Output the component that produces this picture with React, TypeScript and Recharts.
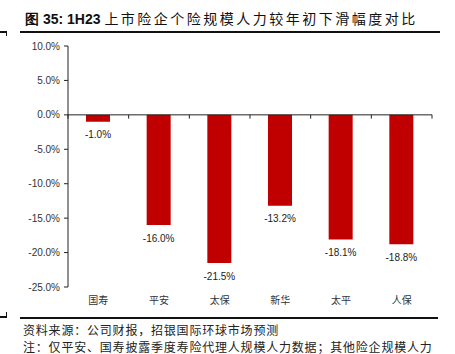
import React from 'react';
import { BarChart, Bar, XAxis, YAxis, ReferenceLine, LabelList } from 'recharts';

const companies = ['国寿', '平安', '太保', '新华', '太平', '人保'];
const declinePct = [-1.0, -16.0, -21.5, -13.2, -18.1, -18.8];
const yTicks = [10, 5, 0, -5, -10, -15, -20, -25];

const chartData = companies.map((name, i) => ({ name, value: declinePct[i] }));

const BAR_RED = '#C00000';
const INK = '#222';

// value label sits under the end of each (negative) bar
const BarValueLabel = (props: any) => {
  const { x, y, width, height, value } = props;
  const bottom = Math.max(Number(y), Number(y) + Number(height));
  return (
    <text
      x={Number(x) + Number(width) / 2}
      y={bottom + 14}
      textAnchor="middle"
      dominantBaseline="middle"
      fontSize={10}
      fontFamily="Arial, 'Liberation Sans', sans-serif"
      fill={INK}
    >
      {`${Number(value).toFixed(1)}%`}
    </text>
  );
};

const rule = (top: number, left: number, width: number) => (
  <div style={{ position: 'absolute', top, left, width, height: 2, background: '#111' }} />
);

export default function App() {
  return (
    <div
      style={{
        position: 'absolute',
        left: 0,
        top: 0,
        width: 455,
        height: 354,
        overflow: 'hidden',
        background: '#fff',
        fontFamily: "'Noto Sans CJK SC', sans-serif",
      }}
    >
      <div
        style={{
          position: 'absolute',
          left: 25,
          top: 8,
          fontSize: 14,
          lineHeight: '20px',
          color: '#111',
          whiteSpace: 'nowrap',
        }}
      >
        <span style={{ fontFamily: "Arial, 'Liberation Sans', sans-serif", fontWeight: 700 }}>图 35: 1H23 </span>
        <span style={{ fontWeight: 400, letterSpacing: 2.5 }}>上市险企个险规模人力较年初下滑幅度对比</span>
      </div>
      {rule(31, 0, 7)}
      <div style={{ position: 'absolute', top: 31, left: 6, width: 1, height: 5, background: '#111' }} />
      {rule(31, 20, 420)}

      <div style={{ position: 'absolute', left: 0, top: 0 }}>
        <BarChart
          width={455}
          height={310}
          data={chartData}
          margin={{ top: 46, right: 23, left: 0, bottom: 0 }}
        >
          <YAxis
            type="number"
            domain={[-25, 10]}
            ticks={yTicks}
            interval={0}
            width={68}
            tickSize={4}
            tickMargin={4}
            axisLine={{ stroke: INK }}
            tickLine={{ stroke: INK }}
            tick={{ fontSize: 10, fill: '#333', fontFamily: "Arial, 'Liberation Sans', sans-serif" }}
            tickFormatter={(v: number) => `${v.toFixed(1)}%`}
          />
          <XAxis
            dataKey="name"
            height={23}
            axisLine={false}
            tickLine={false}
            tickSize={0}
            tickMargin={10}
            interval={0}
            tick={{ fontSize: 10, fill: '#333' }}
          />
          <ReferenceLine y={0} stroke={INK} strokeWidth={1} />
          {companies.map((c) => (
            <ReferenceLine
              key={`tick-${c}`}
              segment={[
                { x: c, y: 0 },
                { x: c, y: -0.55 },
              ]}
              position="start"
              stroke={INK}
            />
          ))}
          <ReferenceLine
            segment={[
              { x: companies[companies.length - 1], y: 0 },
              { x: companies[companies.length - 1], y: -0.55 },
            ]}
            position="end"
            stroke={INK}
          />
          <Bar dataKey="value" fill={BAR_RED} barSize={24} isAnimationActive={false}>
            <LabelList dataKey="value" content={BarValueLabel} />
          </Bar>
        </BarChart>
      </div>

      {rule(316, 0, 7)}
      <div style={{ position: 'absolute', top: 312, left: 6, width: 1, height: 5, background: '#111' }} />
      {rule(317, 20, 418)}
      <div
        style={{
          position: 'absolute',
          left: 23,
          top: 321,
          fontSize: 12,
          letterSpacing: 0.8,
          lineHeight: '17px',
          color: '#222',
          whiteSpace: 'nowrap',
        }}
      >
        <div>资料来源：公司财报，招银国际环球市场预测</div>
        <div>注：仅平安、国寿披露季度寿险代理人规模人力数据；其他险企规模人力</div>
      </div>
    </div>
  );
}
